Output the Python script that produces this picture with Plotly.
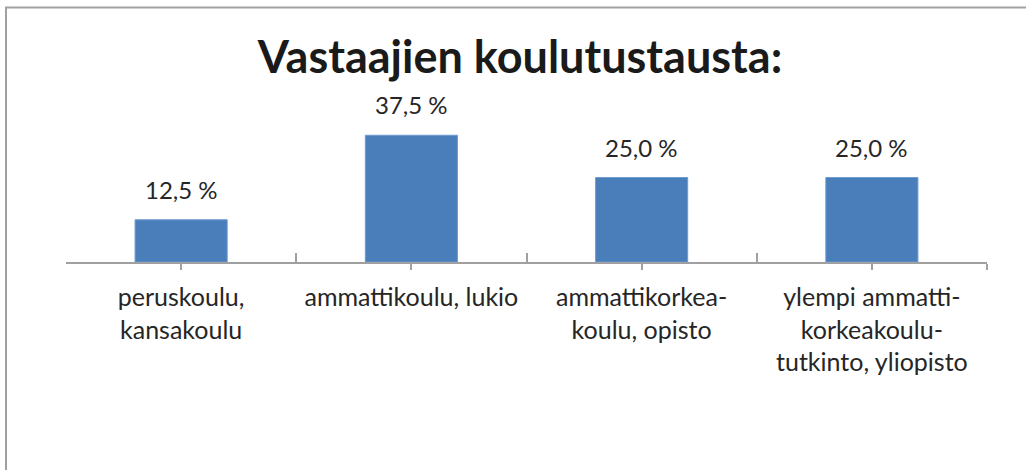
import plotly.graph_objects as go

categories = ["peruskoulu,<br>kansakoulu", "ammattikoulu, lukio",
              "ammattikorkea-<br>koulu, opisto",
              "ylempi ammatti-<br>korkeakoulu-<br>tutkinto, yliopisto"]
values = [12.5, 37.5, 25.0, 25.0]
labels = [f"{v:.1f}".replace(".", ",") + " %" for v in values]
title_text = "Vastaajien koulutustausta:"

W, H = 1026, 470
L, R, T, B = 66, 39, 100, 208
FONT = "Lato, Carlito, 'Open Sans', sans-serif"
GRAY = "#a0a0a0"
TXT = "#262626"

xs = list(range(len(values)))

fig = go.Figure()
fig.add_trace(go.Bar(x=xs, y=values, width=0.4,
                     marker=dict(color="#4a7ebb", line=dict(color="#6f9bd0", width=1)),
                     hoverinfo="skip"))
# invisible trace for boundary tick axis
fig.add_trace(go.Scatter(x=[-0.5, len(values) - 0.5], y=[0, 0], xaxis="x2",
                         mode="markers", marker=dict(opacity=0), hoverinfo="skip"))

annotations = [dict(x=x, y=v, text=t, showarrow=False, yanchor="bottom", yshift=14,
                    font=dict(family=FONT, size=24, color=TXT))
               for x, v, t in zip(xs, values, labels)]

pw = W - L - R
ph = H - T - B
def px2paper_x(px):
    return (px - L) / pw
def px2paper_y(py):
    return (H - B - py) / ph

shapes = [
    dict(type="line", xref="paper", yref="paper", x0=px2paper_x(6), x1=px2paper_x(6),
         y0=px2paper_y(7), y1=px2paper_y(480), line=dict(color=GRAY, width=2)),
    dict(type="line", xref="paper", yref="paper", x0=px2paper_x(5), x1=px2paper_x(1030),
         y0=px2paper_y(7.5), y1=px2paper_y(7.5), line=dict(color=GRAY, width=2)),
]

fig.update_layout(
    width=W, height=H,
    margin=dict(l=L, r=R, t=T, b=B),
    paper_bgcolor="white", plot_bgcolor="white",
    showlegend=False,
    title=dict(text="<b>" + title_text + "</b>", x=520 / W, xanchor="center",
               y=1 - 57 / H, yanchor="middle",
               font=dict(family=FONT, size=45, color="#1a1a1a")),
    xaxis=dict(range=[-0.5, len(values) - 0.5], tickmode="array",
               tickvals=xs + [len(values) - 0.5],
               ticktext=categories + [""], showgrid=False, zeroline=False,
               showline=True, linecolor=GRAY, linewidth=2,
               ticks="outside", ticklen=6, tickwidth=2, tickcolor=GRAY,
               tickfont=dict(family=FONT, size=25, color=TXT),
               ticklabelstandoff=6, fixedrange=True),
    xaxis2=dict(range=[-0.5, len(values) - 0.5], overlaying="x", anchor="y",
                side="bottom", tickmode="array",
                tickvals=[i - 0.5 for i in range(len(values) + 1)],
                ticks="inside", ticklen=9, tickwidth=2, tickcolor=GRAY,
                showticklabels=False, showgrid=False, zeroline=False, showline=False),
    yaxis=dict(range=[0, ph / 3.38], visible=False, fixedrange=True),
    annotations=annotations,
    shapes=shapes,
    bargap=0.6,
)

fig.write_html("out.html", config={"displayModeBar": False, "staticPlot": True},
               post_script="document.body.style.margin='0';document.body.style.overflow='hidden';")
